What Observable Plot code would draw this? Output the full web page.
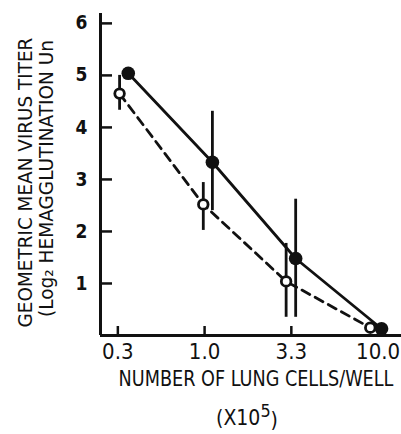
<!DOCTYPE html>
<html>
<head>
<meta charset="utf-8">
<script src="https://cdn.jsdelivr.net/npm/d3@7"></script>
<script src="https://cdn.jsdelivr.net/npm/@observablehq/plot@0.6"></script>
<style>
  html, body { margin: 0; padding: 0; background: #fff; }
  #chart { width: 401px; height: 434px; overflow: hidden; }
</style>
</head>
<body>
<div id="chart"></div>
<script>
// ---- data ----
const xTickLabels = ["0.3", "1.0", "3.3", "10.0"];
const xTickPos = [0, 1, 2, 3];
const yTicks = [1, 2, 3, 4, 5, 6];

// filled circles, solid line
const filledX = [0.12, 1.09, 2.05, 3.04];
const filledY = [5.04, 3.33, 1.48, 0.13];
const filledLo = [null, 2.40, 0.35, null];
const filledHi = [null, 4.31, 2.62, null];

// open circles, dashed line
const openX = [0.02, 0.985, 1.94, 2.91];
const openY = [4.65, 2.52, 1.04, 0.15];
const openLo = [4.33, 2.02, 0.35, null];
const openHi = [5.00, 2.94, 1.77, null];

const yTitle1 = "GEOMETRIC MEAN VIRUS TITER";
const yTitle2 = "(Log\u2082 HEMAGGLUTINATION Un";
const xTitle = "NUMBER OF LUNG CELLS/WELL";
const xUnit = "(X10\u2075)";

const filled = filledX.map((x, i) => ({x, y: filledY[i], lo: filledLo[i], hi: filledHi[i]}));
const open = openX.map((x, i) => ({x, y: openY[i], lo: openLo[i], hi: openHi[i]}));
const filledErr = filled.filter(d => d.lo != null);
const openErr = open.filter(d => d.lo != null);

const FONT = "'DejaVu Sans Condensed', 'DejaVu Sans', sans-serif";
const xDomain = [-0.2, 3.27];

const chart = Plot.plot({
  width: 401,
  height: 434,
  marginLeft: 100,
  marginRight: 0,
  marginTop: 13,
  marginBottom: 99,
  style: {fontFamily: FONT, color: "#111", background: "white"},
  x: {domain: xDomain, type: "linear"},
  y: {domain: [0, 6.19]},
  marks: [
    Plot.axisY({ticks: yTicks, tickSize: 0, tickPadding: 13, fontSize: 19, fontWeight: "bold", label: null, tickFormat: d => String(d)}),
    Plot.axisX({ticks: xTickPos, tickSize: 0, tickPadding: 8, fontSize: 22, label: null, tickFormat: i => xTickLabels[i]}),
    Plot.ruleX([xDomain[0]], {stroke: "#111", strokeWidth: 3}),
    Plot.ruleY([0], {stroke: "#111", strokeWidth: 3}),
    Plot.tickY(yTicks, {stroke: "#111", strokeWidth: 2.5, insetRight: 301 - 12}),
    Plot.tickX(xTickPos, {stroke: "#111", strokeWidth: 2.5, insetTop: 322 - 9}),
    // error bars
    Plot.ruleX(filledErr, {x: "x", y1: "lo", y2: "hi", stroke: "#111", strokeWidth: 2.8}),
    Plot.ruleX(openErr, {x: "x", y1: "lo", y2: "hi", stroke: "#111", strokeWidth: 2.8}),
    // lines
    Plot.line(filled, {x: "x", y: "y", stroke: "#111", strokeWidth: 2.8}),
    Plot.line(open, {x: "x", y: "y", stroke: "#111", strokeWidth: 2.8, strokeDasharray: "9,6"}),
    // points
    Plot.dot(filled, {x: "x", y: "y", r: 6.8, fill: "#111", stroke: "none"}),
    Plot.dot(open, {x: "x", y: "y", r: 4.8, fill: "white", stroke: "#111", strokeWidth: 2.8}),
    // titles
    Plot.text([yTitle1], {frameAnchor: "left", dx: -75, dy: 8, rotate: -90, fontSize: 19, fill: "#111", textAnchor: "middle", lineAnchor: "middle", className: "ytitle1"}),
    Plot.text([yTitle2], {frameAnchor: "left", dx: -54, dy: 4, rotate: -90, fontSize: 19, fill: "#111", textAnchor: "middle", lineAnchor: "middle", className: "ytitle2"}),
    Plot.text([xTitle], {frameAnchor: "bottom", dx: 5, dy: 43, fontSize: 22, fill: "#111", lineAnchor: "middle", className: "xtitle"}),
    Plot.text([xUnit], {frameAnchor: "bottom", dx: -4, dy: 83, fontSize: 21, fill: "#111", lineAnchor: "middle", className: "xunit"})
  ]
});

document.getElementById("chart").appendChild(chart);

// condense the typewriter-like titles to the reference widths (horizontal scale only)
const svg = d3.select(chart);
const fit = (cls, len) => svg.selectAll(`g.${cls} text`).each(function() {
  const natural = this.getComputedTextLength();
  const s = natural > 0 ? len / natural : 1;
  const t = d3.select(this);
  const tr = t.attr("transform") || "";
  t.attr("transform", `${tr} scale(${s},1)`);
});
fit("ytitle1", 290);
fit("ytitle2", 277);
fit("xtitle", 275);
// superscript exponent rendered as a raised digit
svg.selectAll("g.xunit text").each(function() {
  const t = d3.select(this);
  t.text(null);
  t.append("tspan").text("(X10");
  t.append("tspan").attr("dy", "-0.45em").attr("font-size", "0.85em").text("5");
  t.append("tspan").attr("dy", "0.45em").text(")");
});
</script>
</body>
</html>
